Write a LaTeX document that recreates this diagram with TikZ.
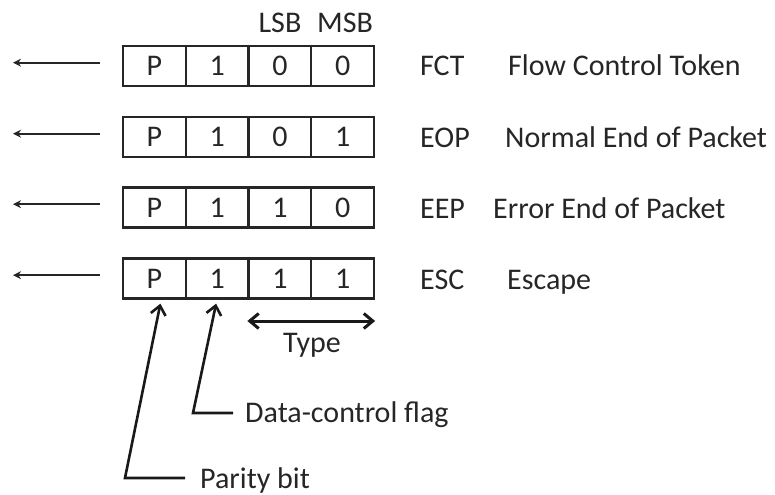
\documentclass[tikz,border=0pt]{standalone}
\usepackage{fontspec}
\setmainfont{Carlito}
\usetikzlibrary{arrows.meta,calc}
\begin{document}
\begin{tikzpicture}[x=1bp,y=-1bp,
  font=\fontsize{30bp}{36bp}\selectfont,
  cell/.style={draw=black!85,line width=2.3bp,minimum width=62.75bp,minimum height=40bp,inner sep=0pt},
  digit/.style={anchor=base,inner sep=0pt,text=black!85},
  lbl/.style={anchor=base west,inner sep=0pt,text=black!85},
  outarrow/.style={draw=black!85,line width=1.9bp,-{Stealth[length=8bp,width=8bp]}},
  ptr/.style={draw=black!90,line width=2.6bp,-{Straight Barb[length=9bp,width=15bp,line width=2.6bp]}},
  dbl/.style={draw=black!90,line width=3bp,{Straight Barb[length=9bp,width=15bp,line width=3bp]}-{Straight Barb[length=9bp,width=15bp,line width=3bp]}}]
\useasboundingbox (0,0) rectangle (775,495);
% cells
\foreach \r/\yy/\a/\b/\c in {1/66/1/0/0, 2/137/1/0/1, 3/207.5/1/1/0, 4/278.5/1/1/1}{
  \node[cell] (c\r1) at (154.4,\yy) {};
  \node[cell] (c\r2) at (217.1,\yy) {};
  \node[cell] (c\r3) at (279.9,\yy) {};
  \node[cell] (c\r4) at (342.6,\yy) {};
  \node[digit] (d\r1) at ($(c\r1.center)+(0,9.7)$) {P};
  \node[digit] (d\r2) at ($(c\r2.center)+(0,9.7)$) {\a};
  \node[digit] (d\r3) at ($(c\r3.center)+(0,9.7)$) {\b};
  \node[digit] (d\r4) at ($(c\r4.center)+(0,9.7)$) {\c};
  \coordinate (s\r) at (100,\yy-3.3);
  \coordinate (e\r) at (13,\yy-3.3);
  \draw[outarrow] (s\r) -- (e\r);
}
% header
\node[digit] (lsb) at (280,33) {LSB};
\node[digit] (msb) at (345,33) {MSB};
% right labels
\node[lbl] (fct) at (420,76) {FCT};
\node[lbl] (fctd) at (508,76) {Flow Control Token};
\node[lbl] (eop) at (420,148) {EOP};
\node[lbl] (eopd) at (505,148) {Normal End of Packet};
\node[lbl] (eep) at (420,219) {EEP};
\node[lbl] (eepd) at (493,219) {Error End of Packet};
\node[lbl] (esc) at (420,290) {ESC};
\node[lbl] (escd) at (507,290) {Escape};
% type arrow
\draw[dbl] (c43.south west |- 0,321) coordinate (ta) -- (c44.south east |- 0,321) coordinate (tb);
\node[digit] (type) at (312,352) {Type};
% data-control flag
\node[lbl] (dcf) at (245,422) {Data-control flag};
\coordinate (dcc) at (193,413);
\coordinate (dce) at (233,413);
\draw[ptr] (dce) -- (dcc) -- ($(c42.south)+(-1,4)$);
% parity bit
\node[lbl] (pb) at (200,488) {Parity bit};
\coordinate (pbc) at (125,478);
\coordinate (pbe) at (185,478);
\draw[ptr] (pbe) -- (pbc) -- ($(c41.south)+(6,4)$);
\end{tikzpicture}
\end{document}
